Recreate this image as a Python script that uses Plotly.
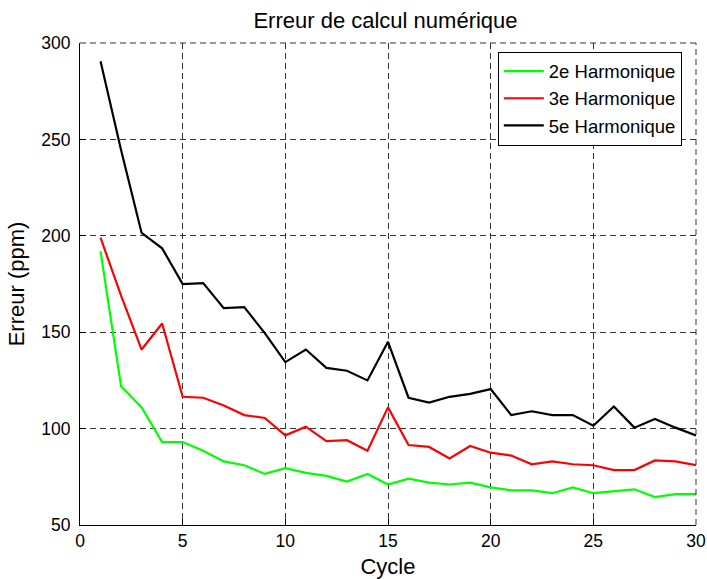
import plotly.graph_objects as go

cycles = list(range(1, 31))

h2 = [192, 122, 111, 93, 93, 88.5, 83, 81, 76.5, 79.5, 77, 75.5, 72.5, 76.5, 71,
      74, 72, 71, 72, 69.5, 68, 68, 66.5, 69.5, 66.5, 67.5, 68.5, 64.5, 66, 66]
h3 = [199, 169, 141, 154.5, 116.5, 116, 112, 107, 105.5, 96.5, 101, 93.5, 94, 88.5, 111,
      91.5, 90.5, 84.5, 91, 87.5, 86, 81.5, 83, 81.5, 81, 78.5, 78.5, 83.5, 83, 81]
h5 = [290.5, 244.5, 201.5, 193.5, 175, 175.5, 162.5, 163, 149.5, 134.5, 141, 131.5, 130, 125, 145,
      116, 113.5, 116.5, 118, 120.5, 107, 109, 107, 107, 101.5, 111.5, 100.5, 105, 100.5, 96.5]

series = [("2e Harmonique", h2, "#00ff00"),
          ("3e Harmonique", h3, "#ff0000"),
          ("5e Harmonique", h5, "#000000")]

font = "Liberation Sans, Arial, sans-serif"
W, H = 707, 579
grid_col = "#333333"
grid_dash = "6px,4px"

fig = go.Figure()
for name, vals, col in series:
    fig.add_trace(go.Scatter(x=cycles, y=vals, mode="lines", name=name,
                             line=dict(color=col, width=2.2)))

axis_common = dict(
    showgrid=True, gridcolor=grid_col, griddash=grid_dash, gridwidth=1,
    showline=True, linecolor="black", linewidth=1,
    ticks="inside", ticklen=6, tickcolor="black",
    tickfont=dict(size=17.5, color="black", family=font),
    zeroline=False, mirror=False,
)

fig.update_xaxes(range=[0, 30], tickvals=[0, 5, 10, 15, 20, 25, 30],
                 title=dict(text="Cycle", font=dict(size=22, family=font, color="black"), standoff=9),
                 ticklabelstandoff=0, **axis_common)
fig.update_yaxes(range=[50, 300], tickvals=[50, 100, 150, 200, 250, 300],
                 title=dict(text="Erreur (ppm)", font=dict(size=22, family=font, color="black"), standoff=10),
                 ticklabelstandoff=5, **axis_common)

# top and right edges of the box are dashed like the grid (matlab "box off" + grid on)
fig.add_shape(type="line", xref="paper", yref="paper", x0=0, x1=1, y0=1, y1=1,
              line=dict(color=grid_col, width=1, dash=grid_dash))
fig.add_shape(type="line", xref="paper", yref="paper", x0=1, x1=1, y0=0, y1=1,
              line=dict(color=grid_col, width=1, dash=grid_dash))

fig.update_layout(
    width=W, height=H,
    margin=dict(l=80, r=11, t=43, b=54, autoexpand=False),
    plot_bgcolor="white", paper_bgcolor="white",
    font=dict(family=font, color="black"),
    title=dict(text="Erreur de calcul numérique", font=dict(size=22, family=font, color="black"),
               x=385.5 / W, xanchor="center", xref="container",
               y=1 - 20 / H, yanchor="middle", yref="container"),
    legend=dict(x=0.977, y=0.982, xanchor="right", yanchor="top",
                bgcolor="white", bordercolor="black", borderwidth=1,
                font=dict(size=18.5, family=font, color="black"),
                itemwidth=40, tracegroupgap=0),
    showlegend=True,
)

# drop the default page margin so the figure fills the window exactly
fig.write_html("out.html", config={"displayModeBar": False},
               post_script="document.body.style.margin='0';")
